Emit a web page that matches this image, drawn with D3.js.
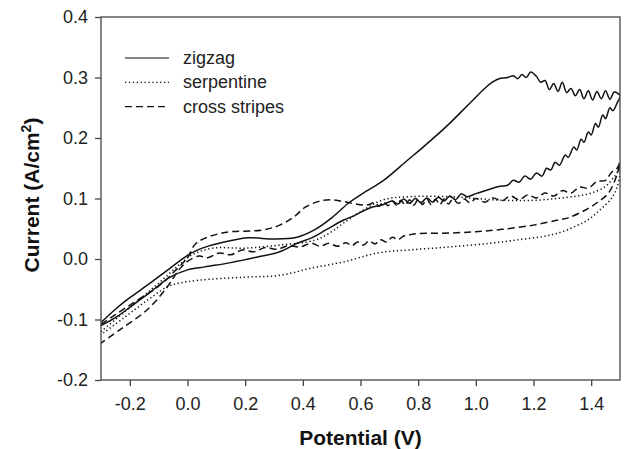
<!DOCTYPE html>
<meta charset="utf-8">
<style>
  body { margin: 0; background: #fff; font-family: "Liberation Sans", Arial, sans-serif; }
  .axis path, .axis line { stroke: #444; stroke-width: 1.3px; }
  .axis text { font-size: 18px; fill: #222; font-family: "Liberation Sans", Arial, sans-serif; }
  .title { font-size: 21px; font-weight: bold; fill: #111; }
  .legend text { font-size: 18px; fill: #222; }
  .curve { fill: none; stroke: #111; stroke-width: 1.5px; }
</style>
<body></body>
<script src="https://cdn.jsdelivr.net/npm/d3@7"></script>
<script>
  // potential (V), current (A/cm2); forward then reverse scan
  var zigzagFwd = [[-0.3,-0.105],[-0.245,-0.081],[-0.2,-0.064],[-0.13,-0.04],[-0.06,-0.015],[0.0,0.006],
    [0.04,0.016],[0.11,0.026],[0.21,0.035],[0.3,0.033],[0.38,0.036],[0.44,0.048],[0.5,0.068],[0.56,0.093],
    [0.62,0.112],[0.68,0.13],[0.76,0.162],[0.81,0.182],[0.9,0.22],[0.98,0.258],[1.04,0.286],[1.06,0.293],
    [1.08,0.298],[1.11,0.3],[1.13,0.303],[1.145,0.298],[1.16,0.305],[1.175,0.3],[1.19,0.309],[1.21,0.302],
    [1.225,0.292],[1.24,0.295],[1.255,0.28],[1.27,0.29],[1.285,0.277],[1.30,0.292],[1.315,0.275],[1.33,0.282],
    [1.345,0.27],[1.36,0.28],[1.375,0.265],[1.39,0.278],[1.405,0.263],[1.42,0.277],[1.435,0.265],[1.45,0.278],
    [1.465,0.264],[1.48,0.276],[1.5,0.27]];
  var zigzagRev = [[1.5,0.27],[1.49,0.258],[1.475,0.245],[1.465,0.25],[1.45,0.232],[1.44,0.238],[1.425,0.218],
    [1.415,0.224],[1.40,0.205],[1.39,0.21],[1.375,0.193],[1.365,0.198],[1.35,0.18],[1.34,0.185],[1.32,0.168],
    [1.31,0.172],[1.29,0.155],[1.275,0.16],[1.26,0.147],[1.245,0.15],[1.23,0.137],[1.21,0.142],[1.19,0.132],
    [1.17,0.137],[1.15,0.127],[1.13,0.13],[1.11,0.122],[1.08,0.12],[1.04,0.114],[1.0,0.108],[0.97,0.103],
    [0.95,0.108],[0.93,0.098],[0.91,0.104],[0.89,0.096],[0.87,0.102],[0.85,0.094],[0.83,0.101],[0.81,0.093],
    [0.79,0.1],[0.77,0.092],[0.75,0.099],[0.73,0.091],[0.71,0.096],[0.68,0.09],[0.63,0.084],[0.58,0.072],
    [0.54,0.064],[0.48,0.048],[0.43,0.035],[0.38,0.026],[0.32,0.012],[0.24,0.003],[0.15,-0.006],
    [0.06,-0.013],[0.0,-0.018],[-0.06,-0.03],[-0.13,-0.055],[-0.2,-0.08],[-0.25,-0.097],[-0.3,-0.11]];

  var serpentineFwd = [[-0.3,-0.12],[-0.25,-0.1],[-0.2,-0.08],[-0.1,-0.04],[-0.03,-0.01],[0.02,0.008],
    [0.09,0.018],[0.2,0.018],[0.32,0.023],[0.44,0.031],[0.49,0.042],[0.54,0.059],[0.6,0.078],[0.68,0.098],
    [0.77,0.103],[0.91,0.103],[1.0,0.1],[1.1,0.097],[1.2,0.097],[1.28,0.1],[1.35,0.104],[1.4,0.109],
    [1.45,0.12],[1.48,0.136],[1.5,0.148]];
  var serpentineRev = [[1.5,0.148],[1.49,0.119],[1.47,0.1],[1.43,0.081],[1.39,0.065],[1.34,0.053],[1.28,0.042],
    [1.23,0.037],[1.15,0.032],[1.05,0.026],[0.91,0.02],[0.77,0.015],[0.66,0.01],[0.54,-0.005],[0.43,-0.015],
    [0.32,-0.027],[0.2,-0.03],[0.04,-0.035],[-0.03,-0.04],[-0.07,-0.046],[-0.15,-0.072],[-0.22,-0.097],
    [-0.3,-0.125]];

  var crossFwd = [[-0.3,-0.108],[-0.25,-0.092],[-0.18,-0.07],[-0.1,-0.045],[-0.04,-0.018],[0.0,0.002],
    [0.03,0.026],[0.12,0.043],[0.26,0.048],[0.32,0.056],[0.37,0.07],[0.41,0.086],[0.46,0.096],[0.5,0.098],
    [0.54,0.095],[0.62,0.089],[0.65,0.093],[0.665,0.087],[0.68,0.095],[0.695,0.088],[0.71,0.096],
    [0.725,0.089],[0.74,0.097],[0.755,0.089],[0.77,0.098],[0.785,0.089],[0.80,0.098],[0.815,0.09],
    [0.83,0.099],[0.845,0.09],[0.86,0.099],[0.875,0.09],[0.89,0.099],[0.905,0.091],[0.92,0.099],
    [0.94,0.092],[0.96,0.099],[0.98,0.093],[1.0,0.1],[1.03,0.094],[1.06,0.101],[1.09,0.096],[1.12,0.104],
    [1.15,0.098],[1.18,0.106],[1.21,0.101],[1.24,0.109],[1.27,0.104],[1.30,0.113],[1.33,0.109],
    [1.36,0.119],[1.39,0.117],[1.42,0.128],[1.45,0.13],[1.47,0.143],[1.49,0.15],[1.5,0.16]];
  var crossRev = [[1.5,0.16],[1.49,0.14],[1.46,0.109],[1.42,0.093],[1.38,0.081],[1.32,0.068],[1.28,0.064],
    [1.2,0.056],[1.09,0.049],[1.0,0.045],[0.91,0.043],[0.8,0.042],[0.77,0.04],[0.75,0.038],[0.73,0.032],
    [0.71,0.036],[0.69,0.028],[0.67,0.032],[0.65,0.025],[0.63,0.03],[0.61,0.023],[0.59,0.028],[0.57,0.022],
    [0.55,0.027],[0.52,0.021],[0.49,0.026],[0.46,0.021],[0.43,0.026],[0.39,0.02],[0.35,0.022],[0.31,0.016],
    [0.27,0.019],[0.23,0.012],[0.19,0.015],[0.15,0.007],[0.11,0.01],[0.07,0.002],[0.04,0.005],[0.0,-0.004],
    [-0.03,-0.018],[-0.07,-0.046],[-0.14,-0.084],[-0.235,-0.117],[-0.3,-0.139]];

  var seriesNames = ["zigzag", "serpentine", "cross stripes"];
  var xTicks = [-0.2, 0.0, 0.2, 0.4, 0.6, 0.8, 1.0, 1.2, 1.4];
  var yTicks = [-0.2, -0.1, 0.0, 0.1, 0.2, 0.3, 0.4];

  var margin = {top: 17, right: 5, bottom: 69, left: 101},
    width = 625 - margin.left - margin.right,
    height = 449 - margin.top - margin.bottom;

  var x = d3.scaleLinear().domain([-0.3, 1.5]).range([0, width]);
  var y = d3.scaleLinear().domain([-0.2, 0.4]).range([height, 0]);

  var svg = d3.select("body").append("svg")
    .attr("width", 625)
    .attr("height", 449);

  svg.append("defs").append("clipPath")
    .attr("id", "clip")
    .append("rect")
    .attr("width", width)
    .attr("height", height);

  var g = svg.append("g")
    .attr("transform", "translate(" + margin.left + "," + margin.top + ")");

  var line = d3.line()
    .x(function(d) { return x(d[0]); })
    .y(function(d) { return y(d[1]); })
    .curve(d3.curveCatmullRom.alpha(0.5));

  var curves = [
    {data: zigzagFwd.concat(zigzagRev.slice(1)), dash: null},
    {data: serpentineFwd.concat(serpentineRev.slice(1)), dash: "1.3,2.6"},
    {data: crossFwd.concat(crossRev.slice(1)), dash: "7,4"}
  ];

  var plot = g.append("g").attr("clip-path", "url(#clip)");
  plot.selectAll(".curve")
    .data(curves)
    .enter().append("path")
    .attr("class", "curve")
    .attr("d", function(d) { return line(d.data); })
    .style("stroke-dasharray", function(d) { return d.dash; });

  // frame
  g.append("rect")
    .attr("width", width)
    .attr("height", height)
    .style("fill", "none")
    .style("stroke", "#444")
    .style("stroke-width", 1.3);

  g.append("g")
    .attr("class", "axis")
    .attr("transform", "translate(0," + height + ")")
    .call(d3.axisBottom(x).tickValues(xTicks).tickFormat(d3.format(".1f")).tickSize(6).tickPadding(11).tickSizeOuter(0));

  g.append("g")
    .attr("class", "axis")
    .call(d3.axisLeft(y).tickValues(yTicks).tickFormat(d3.format(".1f")).tickSize(6).tickPadding(7).tickSizeOuter(0));

  g.selectAll(".axis .domain").remove();
  g.selectAll(".axis text").text(function(d) { return d3.format(".1f")(d).replace("−", "-"); });

  svg.append("text")
    .attr("class", "title")
    .attr("x", margin.left + width / 2)
    .attr("y", 445)
    .style("text-anchor", "middle")
    .text("Potential (V)");

  var yt = svg.append("text")
    .attr("class", "title")
    .attr("transform", "translate(39,195) rotate(-90)")
    .style("text-anchor", "middle");
  yt.append("tspan").text("Current (A/cm");
  yt.append("tspan").attr("dy", -8).style("font-size", "14px").text("2");
  yt.append("tspan").attr("dy", 8).text(")");

  var legend = svg.append("g").attr("class", "legend");
  var legendDash = [null, "1.3,2.6", "7,4"];
  seriesNames.forEach(function(name, i) {
    var ly = 58 + i * 24.3;
    legend.append("line")
      .attr("x1", 125).attr("x2", 169)
      .attr("y1", ly).attr("y2", ly)
      .style("stroke", "#111")
      .style("stroke-width", 1.2)
      .style("stroke-dasharray", legendDash[i]);
    legend.append("text")
      .attr("x", 183)
      .attr("y", ly + 6)
      .text(name);
  });
</script>
